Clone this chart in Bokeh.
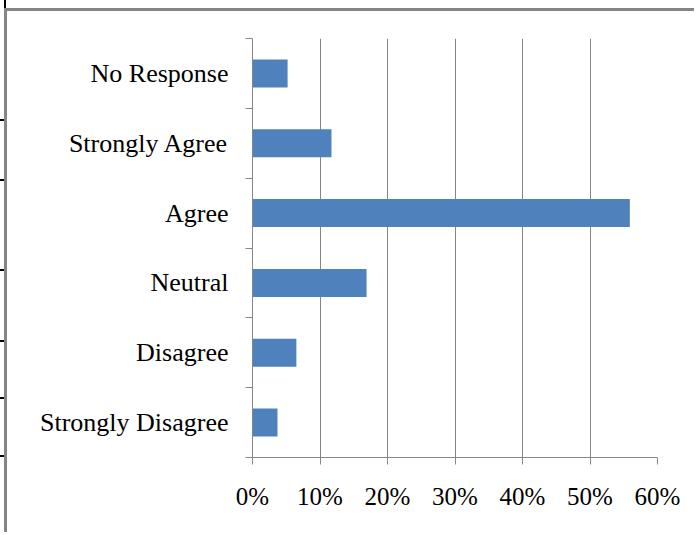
from bokeh.plotting import figure
from bokeh.layouts import column
from bokeh.models import Range1d, FixedTicker, NumeralTickFormatter
from bokeh.embed import file_html
from bokeh.resources import INLINE

categories = ["Strongly Disagree", "Disagree", "Neutral", "Agree", "Strongly Agree", "No Response"]
values = [0.037, 0.065, 0.169, 0.559, 0.117, 0.052]
x_ticks = [0, 0.1, 0.2, 0.3, 0.4, 0.5, 0.6]

ypos = [i + 0.5 for i in range(len(categories))]
bounds = list(range(len(categories) + 1))

GRAY = "#868686"
FONT = "Liberation Serif"

OFF_X, OFF_Y = 7, 11

p = figure(width=697 - OFF_X, height=535 - OFF_Y, output_backend="svg", toolbar_location=None,
           x_range=Range1d(0, 0.6), y_range=Range1d(0, len(categories)),
           min_border_left=252 - OFF_X, min_border_right=40, min_border_top=38 - OFF_Y,
           min_border_bottom=78)
p.styles = {"margin-left": "4px", "margin-top": "8px",
            "border-left": "3px solid #858585", "border-top": "3px solid #858585"}
p.outline_line_color = None
p.background_fill_color = "white"
p.border_fill_color = "white"

p.hbar(y=ypos, right=values, left=0, height=0.4, color="#4F81BD", line_color=None)

# x axis
xa = p.xaxis[0]
xa.ticker = FixedTicker(ticks=x_ticks)
xa.formatter = NumeralTickFormatter(format="0%")
xa.axis_line_color = GRAY
xa.major_tick_line_color = GRAY
xa.major_tick_out = 7
xa.major_tick_in = 0
xa.minor_tick_line_color = None
xa.major_label_standoff = 18
xa.major_label_text_font = FONT
xa.major_label_text_font_size = "25px"
xa.major_label_text_color = "black"

# y axis
ya = p.yaxis[0]
ya.ticker = FixedTicker(ticks=ypos, minor_ticks=bounds)
ya.major_label_overrides = {y: c for y, c in zip(ypos, categories)}
ya.axis_line_color = GRAY
ya.major_tick_line_color = None
ya.major_tick_out = 0
ya.major_tick_in = 0
ya.minor_tick_line_color = GRAY
ya.minor_tick_out = 7
ya.minor_tick_in = 0
ya.major_label_standoff = 17
ya.major_label_text_font = FONT
ya.major_label_text_font_size = "26px"
ya.major_label_text_color = "black"

p.xgrid.grid_line_color = GRAY
p.xgrid.grid_line_width = 1
p.ygrid.grid_line_color = None

# small black marks of the surrounding page on the left edge
mark_rows = [119, 179, 269, 340, 397, 455]
bgs = ["linear-gradient(#000,#000) 0px %dpx / 4px 2px no-repeat" % r for r in mark_rows]
bgs.append("linear-gradient(#000,#000) 4px 0px / 2px 8px no-repeat")
root = column(p, styles={"background": ", ".join(bgs) + ", #ffffff"})

open("out.html", "w").write(file_html(root, INLINE))
